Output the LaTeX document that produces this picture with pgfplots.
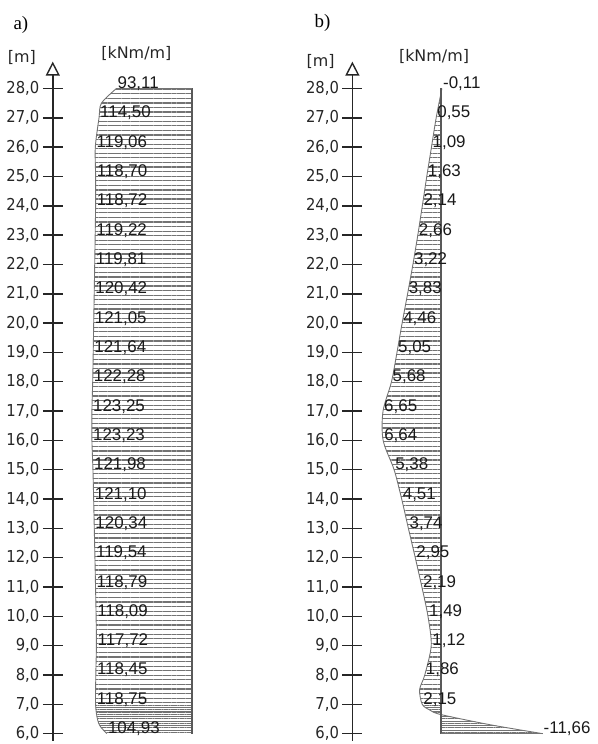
\documentclass[border=0pt]{standalone}
\usepackage{fontspec}
\setmainfont{Liberation Sans}
\newfontfamily\seriffont{Liberation Serif}
\newfontfamily\tickfont{DejaVu Sans Condensed}
\newfontfamily\unitfont{DejaVu Sans}
\usepackage{pgfplots}
\usepackage{pgfplotstable}
\pgfplotsset{compat=1.18}
\usepgfplotslibrary{fillbetween}
\usetikzlibrary{patterns.meta, arrows.meta}

% panel a: outline of the diagram (x = -value)
\pgfplotstableread{
y x
28 -93.11
27.5 -111.5
27 -114.50
26 -119.06
25 -118.70
24 -118.72
23 -119.22
22 -119.81
21 -120.42
20 -121.05
19 -121.64
18 -122.28
17 -123.25
16 -123.23
15 -121.98
14 -121.10
13 -120.34
12 -119.54
11 -118.79
10 -118.09
9 -117.72
8 -118.45
7 -118.75
6.5 -116.5
6.25 -113.0
6 -104.93
}\curveA

\pgfplotstableread{
y x lab
28 -93.11 93,11
27 -114.50 114,50
26 -119.06 119,06
25 -118.70 118,70
24 -118.72 118,72
23 -119.22 119,22
22 -119.81 119,81
21 -120.42 120,42
20 -121.05 121,05
19 -121.64 121,64
18 -122.28 122,28
17 -123.25 123,25
16 -123.23 123,23
15 -121.98 121,98
14 -121.10 121,10
13 -120.34 120,34
12 -119.54 119,54
11 -118.79 118,79
10 -118.09 118,09
9 -117.72 117,72
8 -118.45 118,45
7 -118.75 118,75
6 -104.93 104,93
}\labA

% panel b: outline of the diagram (x = -value)
\pgfplotstableread{
y x
28 0.11
27 -0.55
26 -1.09
25 -1.63
24 -2.14
23 -2.66
22 -3.22
21 -3.83
20 -4.46
19 -5.05
18 -5.68
17 -6.65
16 -6.64
15 -5.38
14 -4.51
13 -3.74
12 -2.95
11 -2.19
10 -1.49
9 -1.12
8 -1.86
7.5 -2.45
7 -2.15
6.8 -1.26
6.65 0
6.3 5.7
6 11.66
}\curveB

\pgfplotstableread{
y x lab
28 0.11 -0,11
27 -0.55 0,55
26 -1.09 1,09
25 -1.63 1,63
24 -2.14 2,14
23 -2.66 2,66
22 -3.22 3,22
21 -3.83 3,83
20 -4.46 4,46
19 -5.05 5,05
18 -5.68 5,68
17 -6.65 6,65
16 -6.64 6,64
15 -5.38 5,38
14 -4.51 4,51
13 -3.74 3,74
12 -2.95 2,95
11 -2.19 2,19
10 -1.49 1,49
9 -1.12 1,12
8 -1.86 1,86
7 -2.15 2,15
6 11.66 -11,66
}\labB

\pgfplotsset{
  panel/.style={
    scale only axis, clip=false,
    axis x line=none, axis y line=left,
    ymin=5.762, ymax=28.917, height=682.1pt,
    ytick={6,...,28}, minor tick num=0,
    tick align=center, major tick length=20pt,
    y axis line style={line width=1.5pt, draw=black!85,
      -{Triangle[open, length=14pt, width=14pt, line width=1.4pt]}},
    ytick style={line width=1.5pt, draw=black!85},
    yticklabel style={font=\tickfont\fontsize{16.5}{19}\selectfont, text=black!85,
      /pgf/number format/fixed, /pgf/number format/fixed zerofill,
      /pgf/number format/precision=1, /pgf/number format/use comma,
      /pgf/number format/assume math mode=true},
  },
  hatch/.style={draw=none, pattern={Lines[angle=0,distance=4.6pt,line width=1.2pt]}, pattern color=black!55},
  dense/.style={draw=none, pattern={Lines[angle=0,distance=2.3pt,line width=1.0pt]}, pattern color=black!55},
  outline/.style={draw=black!55, line width=0.9pt},
  vals/.style={draw=none, mark=none, nodes near coords, point meta=explicit symbolic,
    every node near coord/.append style={anchor=base west, inner sep=0pt, xshift=1pt,
      font=\fontsize{17}{20}\selectfont, text=black!90}},
}

\begin{document}
\begin{tikzpicture}[x=1pt,y=1pt]
\path (0,0) rectangle (600,744);

% ---------- panel a ----------
\begin{axis}[panel, at={(53pt,0pt)}, anchor=south west, width=140pt, xmin=-171.4, xmax=0]
\addplot[name path=A, outline, smooth] table[x=x,y=y] {\curveA};
\addplot[name path=Z, draw=black!65, line width=1.6pt] coordinates {(0,28) (0,6)};
\addplot[hatch] fill between[of=A and Z];
\addplot[dense] fill between[of=A and Z, soft clip={domain y=6:7}];
\addplot[outline] coordinates {(-93.11,28) (0,28)};
\addplot[vals] table[x=x,y=y,meta=lab] {\labA};
\end{axis}

% ---------- panel b ----------
\begin{axis}[panel, at={(354pt,0pt)}, anchor=south west, width=191pt, xmin=-10.17, xmax=11.66]
\addplot[name path=B, outline, smooth] table[x=x,y=y] {\curveB};
\addplot[name path=Z0, draw=black!65, line width=1.6pt] coordinates {(0,28) (0,6)};
\addplot[hatch] fill between[of=B and Z0];
\addplot[dense] fill between[of=B and Z0, soft clip={domain y=6:7}];
\addplot[outline] coordinates {(0,6) (11.66,6)};
\addplot[vals] table[x=x,y=y,meta=lab] {\labB};
\end{axis}

% ---------- titles and units ----------
\node[font=\seriffont\fontsize{19}{22}\selectfont] at (21,719) {a)};
\node[font=\seriffont\fontsize{19}{22}\selectfont] at (324,721) {b)};
\node[font=\unitfont\fontsize{16}{19}\selectfont, text=black!85] at (22,686) {[m]};
\node[font=\unitfont\fontsize{16}{19}\selectfont, text=black!85] at (322,682) {[m]};
\node[font=\unitfont\fontsize{16}{19}\selectfont, text=black!85] at (137,690) {[kNm/m]};
\node[font=\unitfont\fontsize{16}{19}\selectfont, text=black!85] at (436,687) {[kNm/m]};
\end{tikzpicture}
\end{document}
